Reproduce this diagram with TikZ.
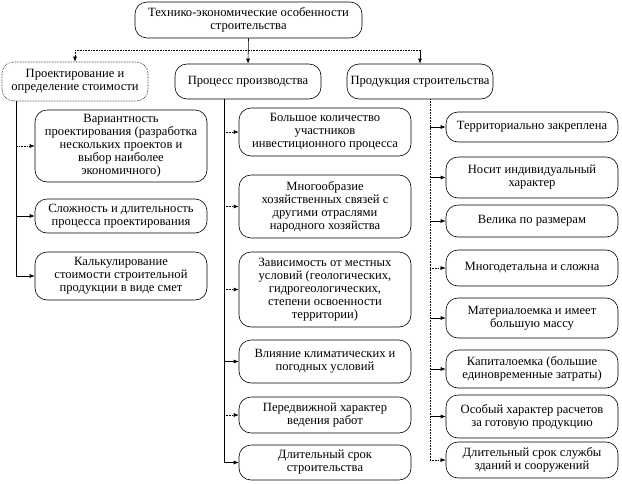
\documentclass[tikz,border=0pt]{standalone}
\usepackage{fontspec}
\setmainfont{Liberation Serif}
\usetikzlibrary{arrows.meta}

\tikzset{
  box/.style={draw, rounded corners=12pt, align=center,
              font=\fontsize{12.6}{13}\selectfont, inner xsep=2pt, inner ysep=2pt},
  head/.style={box, minimum width=146pt, minimum height=35pt},
  item/.style={box, minimum width=172pt},
  link/.style={-{Latex[length=5pt,width=4pt]}},
  dots/.style={densely dotted},
}

\begin{document}
\begin{tikzpicture}[x=1pt, y=-1pt, line width=0.6pt]
  \useasboundingbox (0,0) rectangle (622,483);

  % Root
  \node[box, minimum width=227pt, minimum height=36pt] (top) at (248.5,20)
        {Технико-экономические особенности\\строительства};

  % Column heads
  \node[head, dots, minimum height=39pt] (h1) at (75,81.5)
        {Проектирование и\\определение стоимости};
  \node[head] (h2) at (248,81.5) {Процесс производства};
  \node[head] (h3) at (420,81.5) {Продукция строительства};

  % Root to heads
  \coordinate (bar) at (248,50);
  \draw[dots] (h1.north |- bar) -- (h3.north |- bar);
  \draw[link] (top.south) -- (h2.north);
  \draw[link, dots] (h1.north |- bar) -- (h1.north);
  \draw[link] (h3.north |- bar) -- (h3.north);

  % Column 1: design
  \node[item, minimum height=72pt] (a1) at (121,146)
        {Вариантность\\проектирования (разработка\\нескольких проектов и\\выбор наиболее\\экономичного)};
  \node[item, minimum height=34pt] (a2) at (121,216)
        {Сложность и длительность\\процесса проектирования};
  \node[item, minimum height=48pt] (a3) at (121,276)
        {Калькулирование\\стоимости строительной\\продукции в виде смет};

  \coordinate (s1) at (16,101);
  \draw[link, dots] (s1) |- (a1.west);
  \draw[link] (s1) |- (a2.west);
  \draw[link] (s1) |- (a3.west);

  % Column 2: production process
  \node[item, minimum height=48pt] (b1) at (325,132)
        {Большое количество\\участников\\инвестиционного процесса};
  \node[item, minimum height=63pt] (b2) at (325,206.5)
        {Многообразие\\хозяйственных связей с\\другими отраслями\\народного хозяйства};
  \node[item, minimum height=75pt] (b3) at (325,289.5)
        {Зависимость от местных\\условий (геологических,\\гидрогеологических,\\степени освоенности\\территории)};
  \node[item, minimum height=43pt] (b4) at (325,361.5)
        {Влияние климатических и\\погодных условий};
  \node[item, minimum height=36pt] (b5) at (325,415)
        {Передвижной характер\\ведения работ};
  \node[item, minimum height=35pt] (b6) at (325,462.5)
        {Длительный срок\\строительства};

  \coordinate (s2) at (224,99);
  \draw (s2) -- (s2 |- b6.west);
  \draw[link, dots] (s2 |- b1.west) -- (b1.west);
  \draw[link, dots] (s2 |- b2.west) -- (b2.west);
  \draw[link, dots] (s2 |- b3.west) -- (b3.west);
  \draw[link] (s2 |- b4.west) -- (b4.west);
  \draw[link, dots] (s2 |- b5.west) -- (b5.west);
  \draw[link] (s2) |- (b6.west);

  % Column 3: construction product
  \node[item, minimum height=30pt] (c1) at (532,127) {Территориально закреплена};
  \node[item, minimum height=41pt] (c2) at (532,177.5)
        {Носит индивидуальный\\характер};
  \node[item, minimum height=32pt] (c3) at (532,221) {Велика по размерам};
  \node[item, minimum height=36pt] (c4) at (532,268) {Многодетальна и сложна};
  \node[item, minimum height=40pt] (c5) at (532,318)
        {Материалоемка и имеет\\большую массу};
  \node[item, minimum height=38pt] (c6) at (532,369)
        {Капиталоемка (большие\\единовременные затраты)};
  \node[item, minimum height=43pt] (c7) at (532,416.5)
        {Особый характер расчетов\\за готовую продукцию};
  \node[item, minimum height=36pt] (c8) at (532,460)
        {Длительный срок службы\\зданий и сооружений};

  \coordinate (s3) at (430,99);
  \draw[dots] (s3) -- (s3 |- c8.west);
  \foreach \n in {c1,c2,c3,c5,c6,c7}
    \draw[link] (s3 |- \n.west) -- (\n.west);
  \draw[link, dots] (s3 |- c4.west) -- (c4.west);
  \draw[link, dots] (s3 |- c8.west) -- (c8.west);
\end{tikzpicture}
\end{document}
